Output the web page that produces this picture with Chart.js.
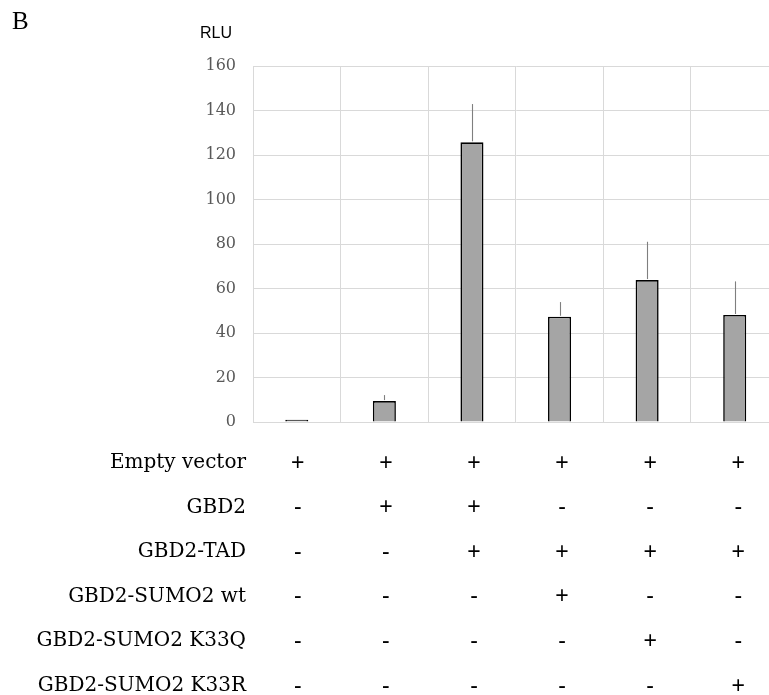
<!DOCTYPE html>
<html>
<head>
<meta charset="utf-8">
<script src="https://cdn.jsdelivr.net/npm/chart.js@4/dist/chart.umd.min.js"></script>
<style>
  html, body { margin: 0; padding: 0; background: #fff; overflow: hidden; }
  #wrap { position: relative; width: 790px; height: 695px; }
</style>
</head>
<body>
<div id="wrap"><canvas id="c"></canvas></div>
<script>
// Luciferase reporter readout (RLU) per transfection condition
const categories = ['1', '2', '3', '4', '5', '6'];
const rluMean = [1.0, 9.4, 125.7, 47.3, 63.8, 48.1];
const rluErr  = [0, 2.7, 17.2, 6.6, 17.2, 15.1];
const yTicks  = [0, 20, 40, 60, 80, 100, 120, 140, 160];

// Construct table drawn beneath the bars
const constructs = ['Empty vector', 'GBD2', 'GBD2-TAD', 'GBD2-SUMO2 wt', 'GBD2-SUMO2 K33Q', 'GBD2-SUMO2 K33R'];
const emptyVector = ['+', '+', '+', '+', '+', '+'];
const gbd2        = ['-', '+', '+', '-', '-', '-'];
const gbd2Tad     = ['-', '-', '+', '+', '+', '+'];
const sumo2Wt     = ['-', '-', '-', '+', '-', '-'];
const sumo2K33Q   = ['-', '-', '-', '-', '+', '-'];
const sumo2K33R   = ['-', '-', '-', '-', '-', '+'];
const signRows = [emptyVector, gbd2, gbd2Tad, sumo2Wt, sumo2K33Q, sumo2K33R];

const errorBars = {
  id: 'errorBars',
  afterDatasetsDraw(chart) {
    const { ctx, scales: { x, y } } = chart;
    ctx.save();
    ctx.strokeStyle = '#7f7f7f';
    ctx.lineWidth = 1.1;
    rluMean.forEach((v, i) => {
      if (!rluErr[i]) return;
      const px = Math.round(x.getPixelForValue(i)) + 0.5;
      ctx.beginPath();
      ctx.moveTo(px, y.getPixelForValue(v) - 1);
      ctx.lineTo(px, y.getPixelForValue(v + rluErr[i]));
      ctx.stroke();
    });
    ctx.restore();
  }
};

const annotations = {
  id: 'annotations',
  afterDraw(chart) {
    const { ctx, scales: { x } } = chart;
    ctx.save();
    // panel letter and axis title
    ctx.fillStyle = '#000';
    ctx.textAlign = 'left';
    ctx.textBaseline = 'alphabetic';
    ctx.font = '25px "Liberation Serif"';
    ctx.fillText('B', 12, 29);
    ctx.font = '16px "Liberation Sans"';
    ctx.fillText('RLU', 200, 38);

    // construct table
    const rowTop = 461, rowStep = 44.6;
    constructs.forEach((name, r) => {
      const yc = rowTop + r * rowStep;
      ctx.font = '20px "DejaVu Serif"';
      ctx.textAlign = 'right';
      ctx.fillStyle = '#000';
      ctx.fillText(name, 246, yc + 7);
      ctx.font = '23px "Liberation Sans"';
      ctx.textAlign = 'center';
      signRows[r].forEach((s, i) => {
        ctx.fillText(s, x.getPixelForValue(i) + 1 + i * 0.5, yc + 8.5);
      });
    });
    ctx.restore();
  }
};

new Chart(document.getElementById('c'), {
  type: 'bar',
  data: {
    labels: categories,
    datasets: [{
      data: rluMean,
      backgroundColor: '#a5a5a5',
      borderColor: '#000',
      borderWidth: 1.6,
      categoryPercentage: 1,
      barPercentage: 0.263
    }]
  },
  options: {
    responsive: true,
    maintainAspectRatio: false,
    animation: false,
    layout: { padding: { top: 66, right: 11.5, bottom: 273, left: 0 } },
    plugins: { legend: { display: false }, tooltip: { enabled: false } },
    scales: {
      x: {
        offset: true,
        grid: { color: '#d9d9d9', lineWidth: 1, drawTicks: false, offset: true },
        border: { display: false },
        ticks: { display: false }
      },
      y: {
        min: 0, max: 160,
        afterFit(scale) { scale.width = 253; },
        afterBuildTicks(scale) { scale.ticks = yTicks.map(v => ({ value: v })); },
        grid: { color: '#d9d9d9', lineWidth: 1, drawTicks: false },
        border: { display: true, color: '#d9d9d9' },
        ticks: {
          padding: 17,
          color: '#595959',
          font: { family: 'DejaVu Serif', size: 16 }
        }
      }
    }
  },
  plugins: [errorBars, annotations]
});
</script>
</body>
</html>
